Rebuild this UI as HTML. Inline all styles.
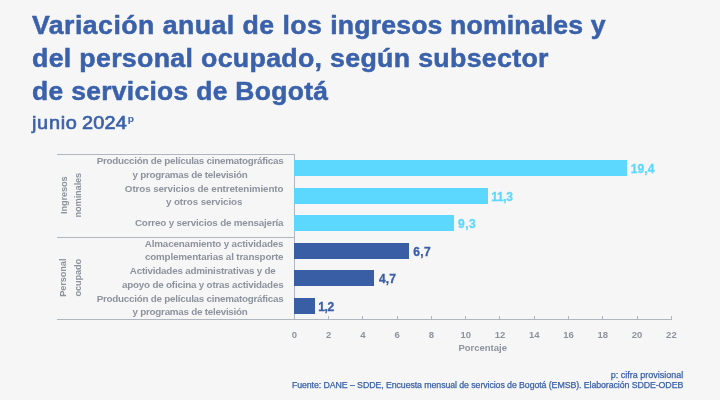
<!DOCTYPE html>
<html lang="es">
<head>
<meta charset="utf-8">
<title>Variación anual de los ingresos nominales y del personal ocupado</title>
<style>
html,body{margin:0;padding:0;}
body{width:720px;height:400px;background:#f6f6f6;position:relative;overflow:hidden;
 font-family:"Liberation Sans",sans-serif;}
.abs{position:absolute;white-space:nowrap;}
h1{position:absolute;left:32.4px;top:8.85px;margin:0;font-size:25px;line-height:33.2px;font-weight:bold;color:#3a61ab;white-space:nowrap;letter-spacing:0.3px;-webkit-text-stroke:0.5px #3a61ab;}
h1 span{display:block;transform-origin:0 50%;width:max-content;}
.sub{left:32.3px;top:112px;font-size:18.5px;line-height:22px;color:#3a61ab;transform-origin:0 50%;transform:scaleX(1.075);-webkit-text-stroke:0.65px #3a61ab;}
.sub sup{font-size:9.5px;vertical-align:baseline;position:relative;top:-6.6px;margin-left:0.7px;font-weight:bold;-webkit-text-stroke:0;}
.line{position:absolute;background:#b0b6bf;}
.bar{position:absolute;left:294.4px;height:16.05px;}
.lb{background:#5cd8fe;}
.db{background:#3a5ea6;}
.val{font-weight:bold;font-size:12px;line-height:16px;}
.val.l{color:#5cd8fe;-webkit-text-stroke:0.3px #5cd8fe;}
.val.d{color:#3a5ea6;-webkit-text-stroke:0.3px #3a5ea6;}
.cat{right:436.6px;text-align:center;font-size:9.8px;line-height:13.75px;font-weight:bold;color:#8d939d;}
.tick{position:absolute;width:1px;height:3.4px;top:315.6px;background:#b0b6bf;}
.tl{font-size:9.5px;line-height:12px;font-weight:bold;color:#8d939d;width:30px;text-align:center;top:328.8px;}
.grp{font-size:9.3px;line-height:14.2px;letter-spacing:-0.15px;font-weight:bold;color:#8d939d;text-align:center;transform:rotate(-90deg);transform-origin:center center;}
.foot{right:36.8px;text-align:right;color:#3a61ab;-webkit-text-stroke:0.25px #3a61ab;}
</style>
</head>
<body>
<div id="wrap" style="position:absolute;left:0;top:0;width:720px;height:400px;filter:blur(0.45px);">
<h1><span id="t1" style="transform:scaleX(1.0657)"><span style="display:inline;letter-spacing:0.45px">Variación anual de los </span><span style="display:inline;letter-spacing:0.14px">ingresos nominales y</span></span><span id="t2" style="transform:scaleX(1.069)">del personal ocupado, según subsector</span><span id="t3" style="transform:scaleX(1.057)">de servicios de Bogotá</span></h1>
<div class="abs sub" id="sub"><span style="letter-spacing:0.65px">junio</span><span style="letter-spacing:-1px"> </span><span style="letter-spacing:0.2px">2024</span><sup>p</sup></div>

<!-- frame lines -->
<div class="line" style="left:57px;top:153.8px;width:238px;height:1px"></div>
<div class="line" style="left:57px;top:237px;width:238px;height:1px"></div>
<div class="line" style="left:57px;top:318.5px;width:615px;height:1px"></div>
<div class="line" style="left:293.8px;top:154px;width:1px;height:165px"></div>

<!-- group labels -->
<div class="abs grp" id="g1" style="left:41px;top:181.3px;width:60px">Ingresos<br>nominales</div>
<div class="abs grp" id="g2" style="left:41.2px;top:263.4px;width:60px;line-height:14.7px">Personal<br>ocupado</div>

<!-- category labels -->
<div class="abs cat" id="c1" style="top:154.2px;letter-spacing:-0.233px">Producción de películas cinematográficas<br>y programas de televisión</div>
<div class="abs cat" id="c2" style="top:181.7px;letter-spacing:-0.093px"><span>Otros servicios de entretenimiento</span><br>y otros servicios</div>
<div class="abs cat" id="c3" style="top:216px;letter-spacing:-0.16px">Correo y servicios de mensajería</div>
<div class="abs cat" id="c4" style="top:236.7px;letter-spacing:-0.145px">Almacenamiento y actividades<br>complementarias al transporte</div>
<div class="abs cat" id="c5" style="top:264.2px;letter-spacing:-0.19px">Actividades administrativas y de<br>apoyo de oficina y otras actividades</div>
<div class="abs cat" id="c6" style="top:291.7px;letter-spacing:-0.233px">Producción de películas cinematográficas<br>y programas de televisión</div>

<!-- bars -->
<div class="bar lb" style="top:160px;width:332.4px"></div>
<div class="bar lb" style="top:187.5px;width:193.6px"></div>
<div class="bar lb" style="top:215.1px;width:159.4px"></div>
<div class="bar db" style="top:242.55px;width:114.4px"></div>
<div class="bar db" style="top:270px;width:80.1px"></div>
<div class="bar db" style="top:297.5px;height:16.2px;width:20.3px"></div>

<!-- values -->
<div class="abs val l" id="v1" style="left:630.8px;top:161.2px;letter-spacing:0.1px">19,4</div>
<div class="abs val l" id="v2" style="left:491.2px;top:188.7px;letter-spacing:-0.3px">11,3</div>
<div class="abs val l" id="v3" style="left:457.9px;top:216.2px;letter-spacing:0.6px">9,3</div>
<div class="abs val d" id="v4" style="left:413.3px;top:243.8px;letter-spacing:0.4px">6,7</div>
<div class="abs val d" id="v5" style="left:378.9px;top:271.3px;letter-spacing:0.15px">4,7</div>
<div class="abs val d" id="v6" style="left:318.3px;top:299.3px;letter-spacing:-0.4px">1,2</div>

<!-- axis tick labels -->
<div class="abs tl" style="left:279.3px">0</div>
<div class="abs tl" style="left:313.6px">2</div>
<div class="abs tl" style="left:347.9px">4</div>
<div class="abs tl" style="left:382.1px">6</div>
<div class="abs tl" style="left:416.4px">8</div>
<div class="abs tl" style="left:450.7px">10</div>
<div class="abs tl" style="left:485px">12</div>
<div class="abs tl" style="left:519.3px">14</div>
<div class="abs tl" style="left:553.5px">16</div>
<div class="abs tl" style="left:587.8px">18</div>
<div class="abs tl" style="left:622.1px">20</div>
<div class="abs tl" style="left:656.4px">22</div>
<div class="tick" style="left:328px"></div>
<div class="tick" style="left:362.3px"></div>
<div class="tick" style="left:396.6px"></div>
<div class="tick" style="left:430.9px"></div>
<div class="tick" style="left:465.2px"></div>
<div class="tick" style="left:499.4px"></div>
<div class="tick" style="left:533.7px"></div>
<div class="tick" style="left:568px"></div>
<div class="tick" style="left:602.3px"></div>
<div class="tick" style="left:636.5px"></div>
<div class="tick" style="left:670.8px"></div>
<div class="abs" id="ax" style="left:458.4px;top:341.7px;font-size:9.5px;line-height:11px;font-weight:bold;color:#8d939d;">Porcentaje</div>

<div class="abs foot" id="f1" style="top:369.5px;font-size:9px;line-height:10.5px;">p: cifra provisional</div>
<div class="abs foot" id="f2" style="top:380.05px;font-size:8.8px;line-height:10.5px;letter-spacing:-0.085px;">Fuente: DANE – SDDE, Encuesta mensual de servicios de Bogotá (EMSB). Elaboración SDDE-ODEB</div>
</div>
</body>
</html>
